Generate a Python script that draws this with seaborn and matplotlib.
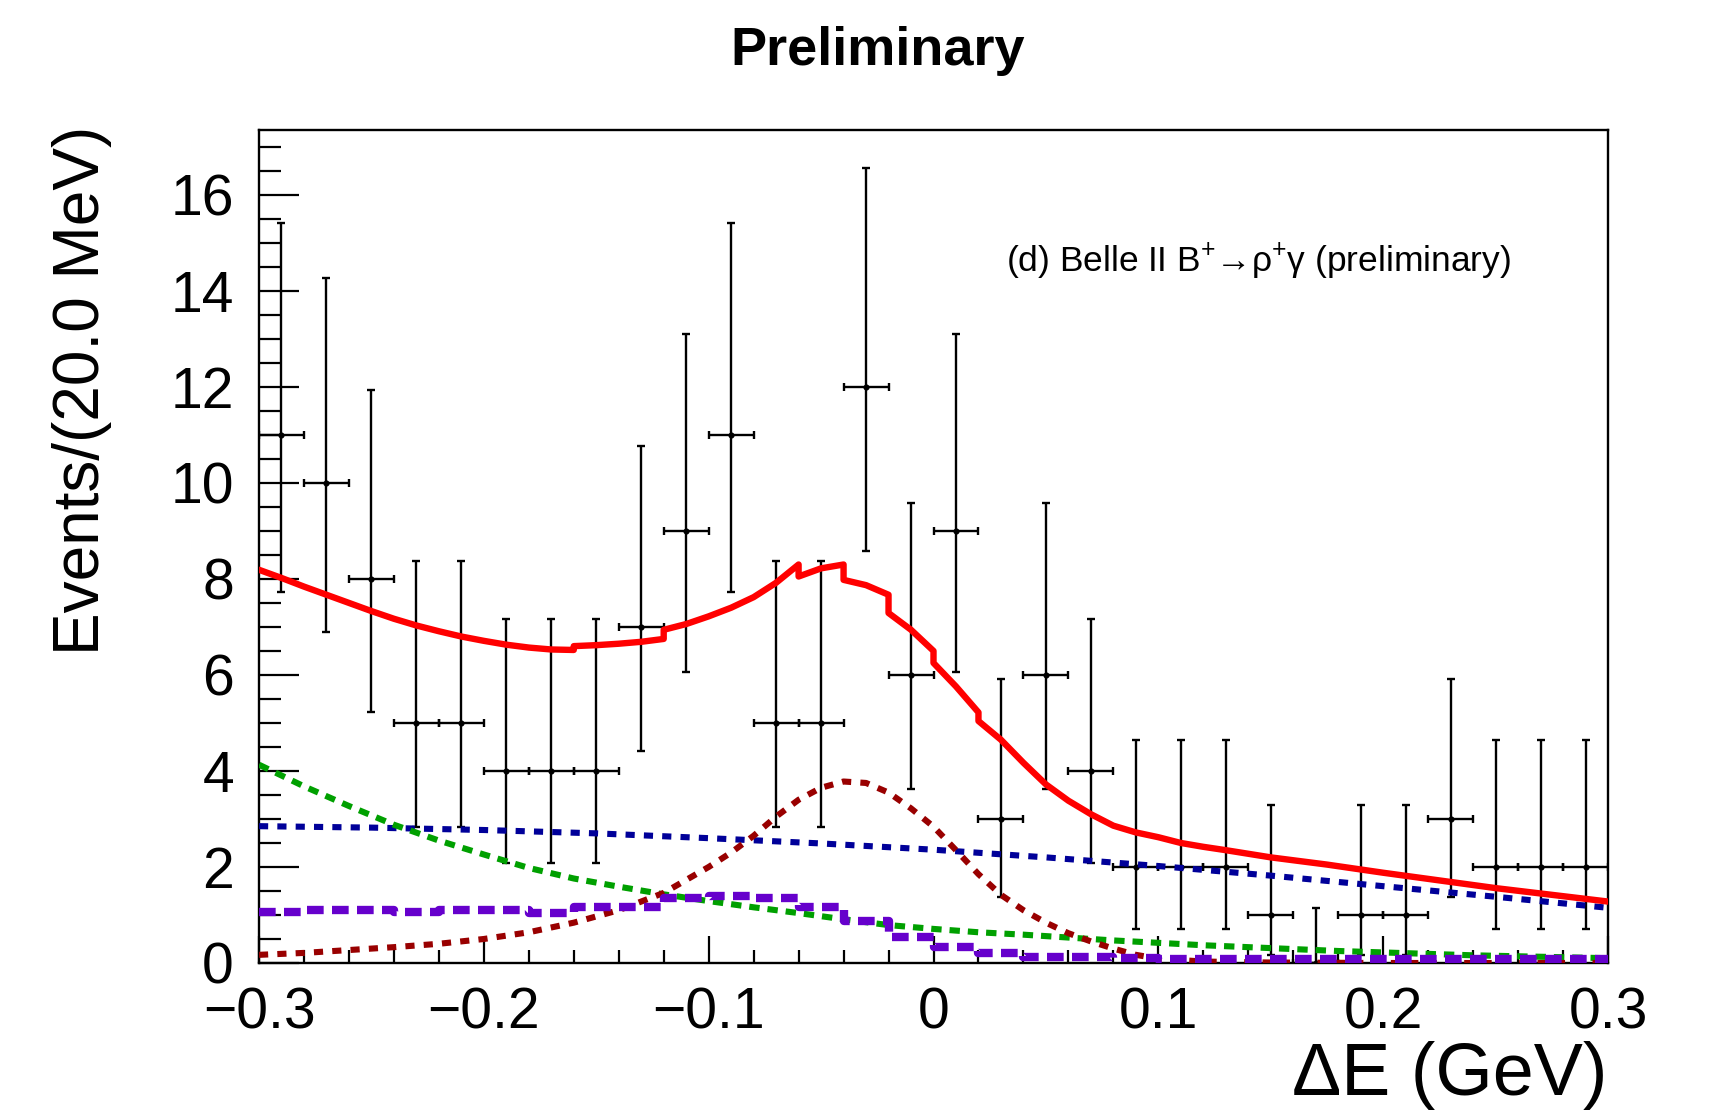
import numpy as np
import pandas as pd
import matplotlib
matplotlib.use("Agg")
import matplotlib.pyplot as plt
import seaborn as sns
from matplotlib.ticker import MultipleLocator, FixedLocator, FixedFormatter

# ---------------- data ----------------
bin_centers = [-0.29, -0.27, -0.25, -0.23, -0.21, -0.19, -0.17, -0.15, -0.13, -0.11,
               -0.09, -0.07, -0.05, -0.03, -0.01, 0.01, 0.03, 0.05, 0.07, 0.09,
               0.11, 0.13, 0.15, 0.17, 0.19, 0.21, 0.23, 0.25, 0.27, 0.29]
counts = [11, 10, 8, 5, 5, 4, 4, 4, 7, 9,
          11, 5, 5, 12, 6, 9, 3, 6, 4, 2,
          2, 2, 1, 0, 1, 1, 3, 2, 2, 2]
err_lo = [3.27, 3.11, 2.77, 2.16, 2.16, 1.91, 1.91, 1.91, 2.58, 2.94,
          3.27, 2.16, 2.16, 3.41, 2.38, 2.94, 1.63, 2.38, 1.91, 1.29,
          1.29, 1.29, 0.83, 0.00, 0.83, 0.83, 1.63, 1.29, 1.29, 1.29]
err_hi = [4.42, 4.27, 3.94, 3.38, 3.38, 3.16, 3.16, 3.16, 3.77, 4.11,
          4.42, 3.38, 3.38, 4.56, 3.58, 4.11, 2.92, 3.58, 3.16, 2.64,
          2.64, 2.64, 2.30, 1.15, 2.30, 2.30, 2.92, 2.64, 2.64, 2.64]
bin_half_width = 0.01

# total fit (red, solid)
total_x = [-0.300, -0.290, -0.280, -0.270, -0.260, -0.250, -0.240, -0.230, -0.220, -0.210,
           -0.200, -0.190, -0.180, -0.170, -0.160, -0.160, -0.150, -0.140, -0.130, -0.120,
           -0.120, -0.110, -0.100, -0.090, -0.080, -0.070, -0.060, -0.060, -0.050, -0.040,
           -0.040, -0.030, -0.020, -0.020, -0.010, 0.000, 0.000, 0.010, 0.020, 0.020,
           0.030, 0.040, 0.050, 0.060, 0.070, 0.080, 0.090, 0.100, 0.110, 0.120,
           0.130, 0.150, 0.175, 0.200, 0.225, 0.250, 0.275, 0.300]
total_y = [8.19, 8.02, 7.84, 7.67, 7.50, 7.33, 7.17, 7.03, 6.91, 6.80,
           6.71, 6.63, 6.57, 6.53, 6.52, 6.60, 6.62, 6.65, 6.69, 6.75,
           6.94, 7.06, 7.22, 7.40, 7.62, 7.92, 8.30, 8.05, 8.22, 8.30,
           7.98, 7.87, 7.67, 7.29, 6.94, 6.50, 6.25, 5.76, 5.22, 5.04,
           4.65, 4.17, 3.72, 3.38, 3.10, 2.86, 2.72, 2.62, 2.50, 2.42,
           2.35, 2.20, 2.05, 1.88, 1.72, 1.56, 1.42, 1.28]

# continuum-like background (blue, dotted)
qq_x = [-0.30, -0.25, -0.20, -0.15, -0.10, -0.05, 0.00, 0.05, 0.10, 0.15, 0.20, 0.25, 0.30]
qq_y = [2.85, 2.82, 2.77, 2.70, 2.60, 2.49, 2.36, 2.20, 2.02, 1.82, 1.60, 1.38, 1.15]

# falling background (green, dashed)
bb_x = [-0.30, -0.28, -0.26, -0.24, -0.22, -0.20, -0.18, -0.16, -0.14, -0.12,
        -0.10, -0.08, -0.06, -0.04, -0.02, 0.00, 0.02, 0.04, 0.06, 0.08,
        0.10, 0.12, 0.14, 0.16, 0.18, 0.20, 0.22, 0.24, 0.26, 0.28, 0.30]
bb_y = [4.13, 3.68, 3.27, 2.88, 2.55, 2.26, 1.98, 1.76, 1.59, 1.43,
        1.29, 1.16, 1.04, 0.91, 0.79, 0.71, 0.64, 0.59, 0.53, 0.47,
        0.42, 0.37, 0.33, 0.29, 0.25, 0.22, 0.19, 0.16, 0.14, 0.12, 0.10]

# signal (dark red, dotted)
sig_x = [-0.30, -0.28, -0.26, -0.24, -0.22, -0.20, -0.18, -0.16, -0.14, -0.12,
         -0.10, -0.09, -0.08, -0.07, -0.06, -0.05, -0.04, -0.03, -0.02, -0.01,
         0.00, 0.01, 0.02, 0.03, 0.04, 0.05, 0.06, 0.07, 0.08, 0.09,
         0.10, 0.12, 0.15, 0.20, 0.25, 0.30]
sig_y = [0.17, 0.21, 0.27, 0.33, 0.40, 0.50, 0.64, 0.84, 1.10, 1.46,
         2.00, 2.30, 2.65, 3.05, 3.40, 3.65, 3.78, 3.75, 3.55, 3.22,
         2.84, 2.35, 1.85, 1.42, 1.10, 0.84, 0.62, 0.45, 0.30, 0.17,
         0.09, 0.03, 0.01, 0.00, 0.00, 0.00]

# peaking background, histogram shaped (purple, dashed)
peak_vals = [1.07, 1.10, 1.10, 1.07, 1.10, 1.10, 1.05, 1.17, 1.17, 1.35,
             1.40, 1.36, 1.17, 0.88, 0.55, 0.34, 0.20, 0.13, 0.12, 0.10,
             0.08, 0.08, 0.08, 0.08, 0.08, 0.08, 0.08, 0.08, 0.08, 0.08]

x_tick_vals = [-0.3, -0.2, -0.1, 0.0, 0.1, 0.2, 0.3]
x_tick_labels = ["\u22120.3", "\u22120.2", "\u22120.1", "0", "0.1", "0.2", "0.3"]
y_tick_vals = [0, 2, 4, 6, 8, 10, 12, 14, 16]

# ---------------- style ----------------
sns.set_style("ticks")
plt.rcParams['font.family'] = ['Liberation Sans', 'DejaVu Sans']
plt.rcParams['mathtext.fontset'] = 'custom'
plt.rcParams['mathtext.rm'] = 'Liberation Sans'
plt.rcParams['mathtext.it'] = 'Liberation Sans:italic'
plt.rcParams['mathtext.bf'] = 'Liberation Sans:bold'
for key in ['text.color', 'axes.labelcolor', 'xtick.color', 'ytick.color',
            'axes.edgecolor', 'xtick.labelcolor', 'ytick.labelcolor']:
    plt.rcParams[key] = 'black'

fig = plt.figure(figsize=(17.11, 11.14), dpi=100)
fig.patch.set_facecolor('white')
ax = fig.add_axes([259 / 1711, 1 - 963 / 1114, (1608 - 259) / 1711, (963 - 130) / 1114])
ax.set_facecolor('white')

# data points with error bars
ax.errorbar(bin_centers, counts, yerr=[err_lo, err_hi],
            xerr=[bin_half_width] * len(bin_centers),
            fmt='o', ms=3.4, color='black', ecolor='black', elinewidth=1.7,
            capsize=2.6, capthick=1.7, zorder=3)

# curves
edges = [c - bin_half_width for c in bin_centers] + [bin_centers[-1] + bin_half_width]
peak_steps = peak_vals + [peak_vals[-1]]

sns.lineplot(x=qq_x, y=qq_y, ax=ax, color='#000099', lw=4.4, sort=False, estimator=None,
             linestyle=(0, (1.5, 1.5)), zorder=4)
sns.lineplot(x=bb_x, y=bb_y, ax=ax, color='#00a000', lw=4.4, sort=False, estimator=None,
             linestyle=(0, (1.7, 1.3)), zorder=4)
sns.lineplot(x=sig_x, y=sig_y, ax=ax, color='#990000', lw=4.4, sort=False, estimator=None,
             linestyle=(0, (1.5, 1.5)), zorder=4)
sns.lineplot(x=edges, y=peak_steps, ax=ax, color='#6600cc', lw=6.0, sort=False, estimator=None,
             drawstyle='steps-post', linestyle=(0, (2.0, 1.0)), zorder=5)
sns.lineplot(x=total_x, y=total_y, ax=ax, color='#ff0000', lw=4.6, sort=False, estimator=None,
             zorder=6)

# axes
ax.set_xlim(-0.3, 0.3)
ax.set_ylim(0, 17.35)
ax.xaxis.set_major_locator(FixedLocator(x_tick_vals))
ax.xaxis.set_major_formatter(FixedFormatter(x_tick_labels))
ax.xaxis.set_minor_locator(MultipleLocator(0.02))
ax.yaxis.set_major_locator(FixedLocator(y_tick_vals))
ax.yaxis.set_minor_locator(MultipleLocator(0.5))
ax.tick_params(axis='both', which='both', direction='in', top=False, right=False,
               width=1.6, color='black', labelcolor='black')
ax.tick_params(axis='x', which='major', length=19.5, labelsize=41, pad=17)
ax.tick_params(axis='x', which='minor', length=9.5)
ax.tick_params(axis='y', which='major', length=29, labelsize=41, pad=18)
ax.tick_params(axis='y', which='minor', length=16)
for sp in ax.spines.values():
    sp.set_linewidth(1.7)
    sp.set_color('black')
    sp.set_visible(True)

ax.set_xlabel("\u0394E (GeV)", fontsize=53, ha='right', va='baseline', color='black')
ax.xaxis.set_label_coords(1.0, -0.158)
ax.set_ylabel("Events/(20.0 MeV)", fontsize=46, ha='right', va='center',
              rotation=90, rotation_mode='anchor', color='black')
ax.yaxis.set_label_coords(-0.131, 1.005)

ax.text((1006 - 259) / 1349, (963 - 272) / 833,
        "(d) Belle II B$^{+}$\u2192\u03c1$^{+}$\u03b3 (preliminary)",
        transform=ax.transAxes, fontsize=25.5, ha='left', va='baseline', color='black')

fig.text(0.5127, 0.9416, "Preliminary", fontsize=39, fontweight='bold',
         ha='center', va='baseline', color='black')

fig.savefig("out.png", dpi=100, facecolor='white')
